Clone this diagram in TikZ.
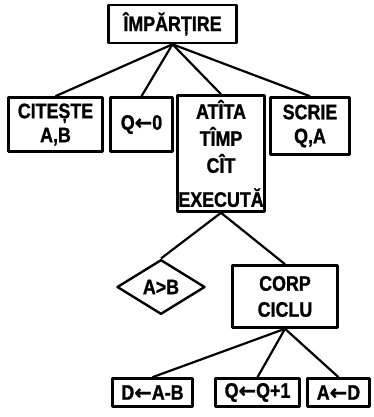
\documentclass[tikz,border=0pt]{standalone}
\usepackage{fontspec}
\setmainfont{Liberation Sans}[FakeStretch=0.85,BoldFeatures={FakeBold=1.2}]
\newfontfamily\arrfont{DejaVu Sans}[BoldFeatures={FakeBold=1.2}]
\usepackage{tikz}
\usetikzlibrary{shapes.geometric}
\newcommand{\asg}{{\arrfont\bfseries ←}}
\newcommand{\bigtxt}{\fontsize{21}{24}\selectfont\bfseries}
\tikzset{blk/.style={draw,line width=2.6pt,align=center,inner sep=1pt,font=\bigtxt},
  cond/.style={diamond,draw,line width=2.4pt,inner sep=1pt,font=\bigtxt},
  lnk/.style={line width=2.2pt}}

\begin{document}
\begin{tikzpicture}[x=1pt,y=-1pt,line join=round]
\useasboundingbox (0,0) rectangle (374,417);
% --- root and first level
\node[blk,minimum width=128,minimum height=38] (imp) at (172.5,24) {ÎMPĂRȚIRE};
\node[blk,minimum width=94,minimum height=54] (cit) at (55.5,124.5) {CITEȘTE\\A,B};
\node[blk,minimum width=62,minimum height=54] (qz) at (141.5,124.5) {Q\asg0};
\node[blk,minimum width=87,minimum height=116] (cat) at (221,153.5) {ATÎTA\\[3pt]TÎMP\\[3pt]CÎT\\[10pt]EXECUTĂ};
\node[blk,minimum width=79,minimum height=57] (scr) at (310,126) {SCRIE\\Q,A};
\draw[lnk] (imp.south) -- (cit.north); \draw[lnk] (imp.south) -- (qz.north);
\draw[lnk] (imp.south) -- (cat.north); \draw[lnk] (imp.south) -- (scr.north);
% --- condition and loop body
\node[cond,minimum width=88,minimum height=50] (ab) at (161,287) {A>B};
\node[blk,minimum width=105,minimum height=62] (corp) at (285,296.5) {CORP\\[2pt]CICLU};
\draw[lnk] (cat.south) -- (ab.north); \draw[lnk] (cat.south) -- (corp.north);
% --- body statements
\node[blk,minimum width=80,minimum height=28] (dab) at (152.5,392.5) {D\asg A-B};
\node[blk,minimum width=84,minimum height=28] (qq) at (257.5,392.5) {Q\asg Q+1};
\node[blk,minimum width=62,minimum height=28] (ad) at (338.5,392.5) {A\asg D};
\draw[lnk] (corp.south) -- (dab.north); \draw[lnk] (corp.south) -- (qq.north);
\draw[lnk] (corp.south) -- (ad.north);
\end{tikzpicture}
\end{document}
